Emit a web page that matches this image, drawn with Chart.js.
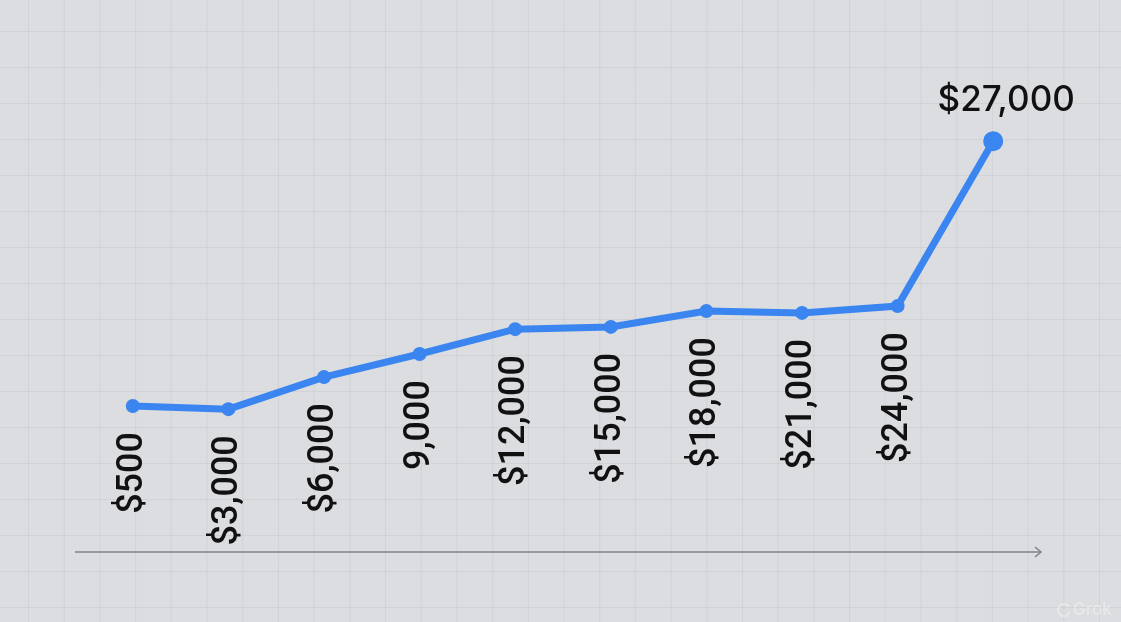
<!DOCTYPE html>
<html>
<head>
<meta charset="utf-8">
<script src="https://cdn.jsdelivr.net/npm/chart.js@4"></script>
<style>
    html, body { margin: 0; padding: 0; background: #dcdde0; }
    #wrap { width: 1121px; height: 622px; position: relative; }
</style>
</head>
<body>
<div id="wrap"><canvas id="growthChart"></canvas></div>
<script>
const categories = ['$500', '$3,000', '$6,000', '9,000', '$12,000', '$15,000', '$18,000', '$21,000', '$24,000', '$27,000'];
const values = [32.3, 31.6, 38.7, 43.8, 49.3, 49.8, 53.3, 52.9, 54.4, 90.9];
const pointSizes = [7, 7, 7, 7, 7, 7, 7, 7, 7, 10];

const LABEL_FONT = '500 36px Roboto, Inter, "Liberation Sans", sans-serif';
const TOP_FONT = '500 35px Inter, "Liberation Sans", sans-serif';

// paper grid behind everything
const gridBackground = {
    id: 'gridBackground',
    beforeDraw(chart) {
        const ctx = chart.ctx;
        ctx.save();
        ctx.fillStyle = '#dcdde0';
        ctx.fillRect(0, 0, chart.width, chart.height);
        ctx.strokeStyle = 'rgba(160, 162, 170, 0.16)';
        ctx.lineWidth = 1;
        for (let x = 28.5; x < chart.width; x += 35.7) {
            ctx.beginPath();
            ctx.moveTo(x, 0);
            ctx.lineTo(x, chart.height);
            ctx.stroke();
        }
        for (let y = 31.5; y < chart.height; y += 36) {
            ctx.beginPath();
            ctx.moveTo(0, y);
            ctx.lineTo(chart.width, y);
            ctx.stroke();
        }
        ctx.restore();
    }
};

// bottom axis with arrow head, and the point labels
const pointLabels = {
    id: 'pointLabels',
    afterDatasetsDraw(chart) {
        const ctx = chart.ctx;
        const area = chart.chartArea;
        const pts = chart.getDatasetMeta(0).data;
        ctx.save();

        // axis arrow
        ctx.strokeStyle = '#818286';
        ctx.lineWidth = 1.5;
        ctx.beginPath();
        ctx.moveTo(area.left - 10, area.bottom);
        ctx.lineTo(area.right, area.bottom);
        ctx.stroke();
        ctx.beginPath();
        ctx.moveTo(area.right - 6, area.bottom - 5);
        ctx.lineTo(area.right, area.bottom);
        ctx.lineTo(area.right - 6, area.bottom + 5);
        ctx.stroke();

        ctx.fillStyle = '#111111';
        pts.forEach((pt, i) => {
            if (i === pts.length - 1) {
                ctx.font = TOP_FONT;
                ctx.textAlign = 'center';
                ctx.textBaseline = 'alphabetic';
                ctx.fillText(categories[i], pt.x + 13, pt.y - 30);
                return;
            }
            ctx.save();
            ctx.font = LABEL_FONT;
            ctx.translate(pt.x, pt.y + 26);
            ctx.rotate(-Math.PI / 2);
            ctx.textAlign = 'right';
            ctx.textBaseline = 'middle';
            ctx.fillText(categories[i], 0, 0);
            ctx.restore();
        });

        // watermark
        ctx.fillStyle = 'rgba(255, 255, 255, 0.35)';
        ctx.font = '500 17px Inter, sans-serif';
        ctx.textAlign = 'left';
        ctx.textBaseline = 'middle';
        ctx.fillText('Grok', 1073, 610);
        ctx.strokeStyle = 'rgba(255, 255, 255, 0.35)';
        ctx.lineWidth = 2;
        ctx.beginPath();
        ctx.arc(1064, 610, 6, 0.3, Math.PI * 1.8);
        ctx.stroke();
        ctx.restore();
    }
};

document.addEventListener('DOMContentLoaded', function() {
    const ctx = document.getElementById('growthChart').getContext('2d');
    new Chart(ctx, {
        type: 'line',
        data: {
            labels: categories,
            datasets: [{
                data: values,
                borderColor: '#3a85f0',
                backgroundColor: '#3a85f0',
                borderWidth: 7,
                pointRadius: pointSizes,
                pointHoverRadius: pointSizes,
                pointBorderWidth: 0,
                tension: 0,
                fill: false
            }]
        },
        options: {
            responsive: true,
            maintainAspectRatio: false,
            animation: false,
            layout: { padding: { left: 85, right: 80, top: 100, bottom: 70 } },
            plugins: {
                legend: { display: false },
                tooltip: { enabled: false }
            },
            scales: {
                x: { display: false, offset: true },
                y: { display: false, min: 0, max: 100 }
            }
        },
        plugins: [gridBackground, pointLabels]
    });
});
</script>
</body>
</html>
